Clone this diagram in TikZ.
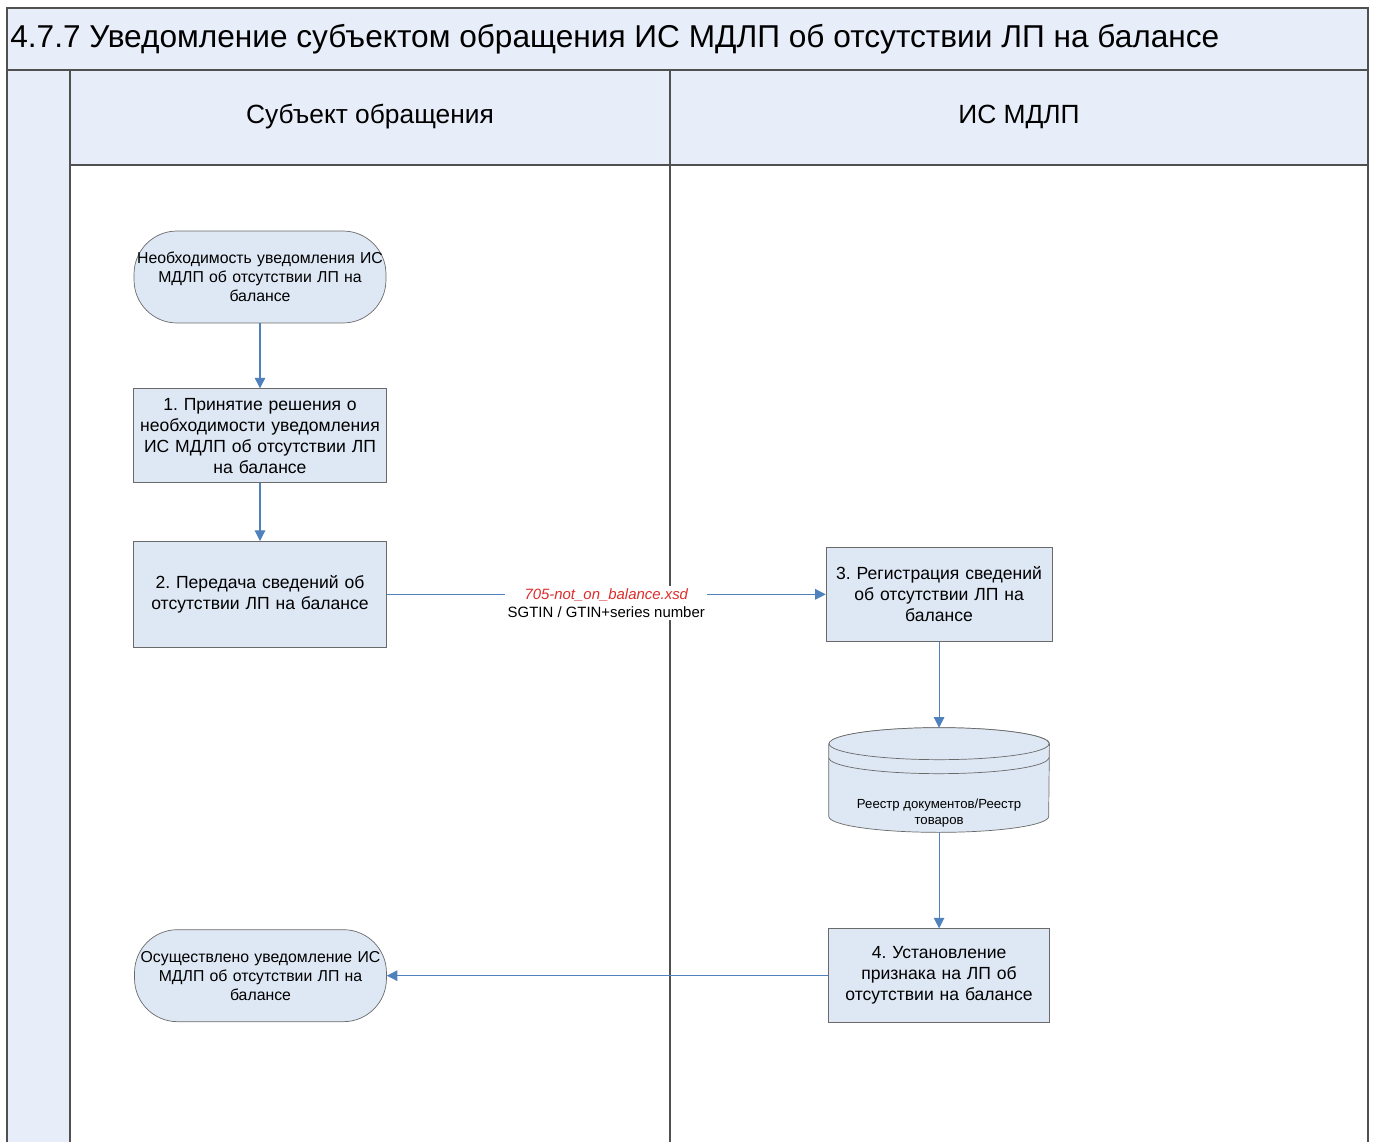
\documentclass[tikz,border=0pt]{standalone}
\usepackage{fontspec}
\setmainfont{Liberation Sans}
\frenchspacing
\usetikzlibrary{arrows.meta,positioning}
\definecolor{LaneFill}{RGB}{232,238,249}
\definecolor{NodeFill}{RGB}{222,231,244}
\definecolor{LaneLine}{RGB}{80,80,80}
\definecolor{FlowBlue}{RGB}{79,129,189}
\definecolor{MsgRed}{RGB}{222,45,45}
\tikzset{
  lane/.style={draw=LaneLine,line width=0.6pt},
  terminal/.style={draw=LaneLine!85,fill=NodeFill,rounded corners=0.86cm,
    minimum width=5.04cm,minimum height=1.84cm,text width=5cm,align=center,
    inner sep=0pt,font=\fontsize{9}{10.8}\selectfont},
  process/.style={draw=LaneLine!85,fill=NodeFill,minimum width=5.06cm,
    minimum height=1.88cm,text width=4.9cm,align=center,inner sep=0pt,
    font=\fontsize{10}{12}\selectfont},
  dbshape/.style={minimum width=4.4cm,minimum height=2.08cm,inner sep=0pt},
  dbline/.style={draw=LaneLine!85,fill=NodeFill},
  dbtext/.style={align=center,inner sep=0pt,font=\fontsize{7.5}{9}\selectfont},
  msg/.style={fill=white,text=black,align=center,inner sep=1.5pt,
    font=\fontsize{8.5}{10.2}\selectfont},
  arrow/.style={-{Triangle[width=6pt,length=6pt]},FlowBlue,line width=0.6pt}
}
\begin{document}
\begin{tikzpicture}[x=0.02cm,y=-0.02cm]
  \useasboundingbox (0,0) rectangle (1375,1142);
  \fill[LaneFill] (7,8) rectangle (1368,70);
  \fill[LaneFill] (7,70) rectangle (70,1142);
  \fill[LaneFill] (70,70) rectangle (1368,165);
  \draw[lane] (7,1142) -- (7,8) -- (1368,8) -- (1368,1142);
  \draw[lane,line width=1.2pt] (7,70) -- (1368,70);
  \draw[lane] (70,70) -- (70,1142);
  \draw[lane] (670,70) -- (670,1142);
  \draw[lane] (70,165) -- (1368,165);
  \node[anchor=west,inner sep=0pt,font=\fontsize{18}{21}\selectfont] (title) at (10,39)
    {4.7.7 Уведомление субъектом обращения ИС МДЛП об отсутствии ЛП на балансе};
  \node[font=\fontsize{15}{18}\selectfont] (lane1) at (370,117) {Субъект обращения};
  \node[font=\fontsize{15}{18}\selectfont] (lane2) at (1019,117) {ИС МДЛП};

  \node[terminal] (start) at (260,277) {Необходимость уведомления ИС\\МДЛП об отсутствии ЛП на\\балансе};
  \node[process,below=1.3cm of start] (decide) {1. Принятие решения о\\необходимости уведомления\\ИС МДЛП об отсутствии ЛП\\на балансе};
  \node[process,minimum height=2.12cm,below=1.16cm of decide] (send) {2. Передача сведений об\\отсутствии ЛП на балансе};
  \node[process,minimum width=4.52cm,text width=4.4cm,right=8.78cm of send] (register) {3. Регистрация сведений\\об отсутствии ЛП на\\балансе};
  \node[dbshape,below=1.72cm of register] (registry) {};
  \draw[dbline] ([yshift=-0.32cm]registry.north west) -- ([yshift=0.32cm]registry.south west)
    arc[start angle=180,end angle=360,x radius=2.2cm,y radius=0.32cm]
    -- ([yshift=-0.32cm]registry.north east)
    arc[start angle=0,end angle=180,x radius=2.2cm,y radius=0.32cm] -- cycle;
  \draw[dbline] ([yshift=-0.32cm]registry.north) ellipse[x radius=2.2cm,y radius=0.32cm];
  \draw[draw=LaneLine!85] ([yshift=-0.6cm]registry.north west)
    arc[start angle=180,end angle=360,x radius=2.2cm,y radius=0.32cm];
  \node[dbtext] (registrytext) at ([yshift=-0.66cm]registry.center) {Реестр документов/Реестр\\товаров};
  \node[process,minimum width=4.42cm,text width=4.3cm,below=1.92cm of registry] (flag) {4. Установление\\признака на ЛП об\\отсутствии на балансе};
  \node[terminal,left=8.83cm of flag] (done) {Осуществлено уведомление ИС\\МДЛП об отсутствии ЛП на\\балансе};

  \draw[arrow] (start) -- (decide);
  \draw[arrow] (decide) -- (send);
  \draw[arrow] (send) -- node[msg,yshift=-5.1pt] {\textcolor{MsgRed}{\itshape 705-not\_on\_balance.xsd}\\SGTIN / GTIN+series number} (register);
  \draw[arrow] (register) -- (registry);
  \draw[arrow] (registry) -- (flag);
  \draw[arrow] (flag) -- (done);
\end{tikzpicture}
\end{document}
